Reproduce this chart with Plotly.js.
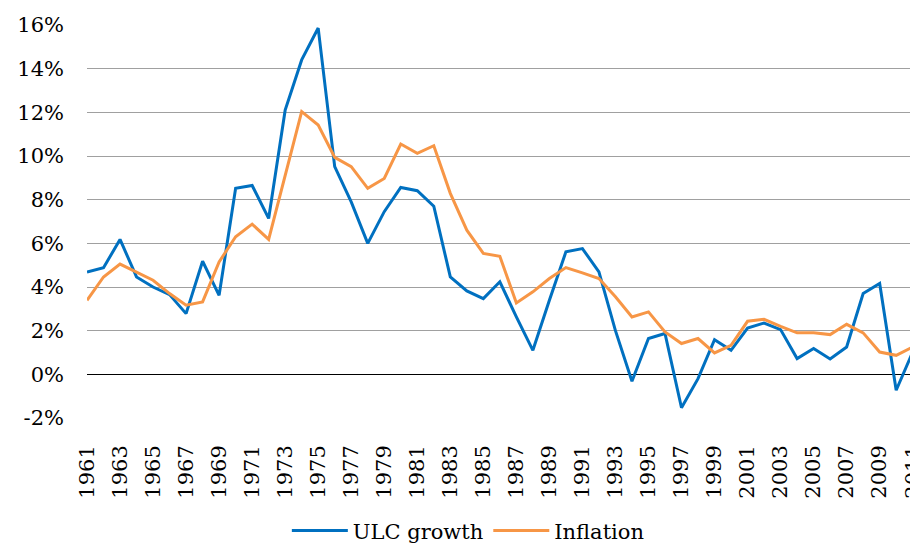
<!DOCTYPE html>
<html>
<head>
<meta charset="utf-8">
<script src="https://cdn.plot.ly/plotly-3.0.1.min.js"></script>
<style>
  body { margin: 0; overflow: hidden; background: #fff; }
  #chart { width: 916px; height: 544px; }
</style>
</head>
<body>
<div id="chart"></div>
<script>
const years = [];
for (let y = 1961; y <= 2011; y += 1) years.push(y);

// unit labour cost growth, % per year
const ulcGrowth = [4.69, 4.88, 6.18, 4.46, 4.0, 3.65, 2.78, 5.18, 3.62, 8.52,
                   8.65, 7.14, 12.1, 14.4, 15.86, 9.51, 7.9, 6.0, 7.45, 8.56,
                   8.41, 7.7, 4.46, 3.82, 3.47, 4.24, 2.63, 1.1, 3.39, 5.61,
                   5.76, 4.69, 2.0, -0.32, 1.64, 1.87, -1.53, -0.2, 1.59, 1.1,
                   2.12, 2.35, 2.05, 0.72, 1.18, 0.7, 1.25, 3.7, 4.16, -0.73,
                   1.02];

// consumer price inflation, % per year
const inflation = [3.39, 4.46, 5.05, 4.69, 4.31, 3.7, 3.17, 3.32, 5.15, 6.3,
                   6.88, 6.18, 9.05, 12.03, 11.42, 9.94, 9.51, 8.52, 8.97, 10.55,
                   10.12, 10.47, 8.29, 6.6, 5.54, 5.41, 3.27, 3.78, 4.39, 4.89,
                   4.65, 4.39, 3.55, 2.63, 2.86, 1.94, 1.41, 1.64, 0.98, 1.33,
                   2.43, 2.52, 2.2, 1.9, 1.9, 1.82, 2.29, 1.9, 1.02, 0.87,
                   1.25];

// y axis ticks (plain hyphen for the minus, as in the source)
const yTickVals = [-2, 0, 2, 4, 6, 8, 10, 12, 14, 16];
const yTickText = ['-2%', '0%', '2%', '4%', '6%', '8%', '10%', '12%', '14%', '16%'];

const seriesNames = ["ULC growth", "Inflation"];
const seriesColors = ['#0070C0', '#F79646'];

const txtFont = {family: 'DejaVu Serif, serif', size: 21, color: '#000'};

const data = [
    {x: years, y: ulcGrowth, type: 'scatter', mode: 'lines', name: seriesNames[0],
     line: {color: seriesColors[0], width: 3}},
    {x: years, y: inflation, type: 'scatter', mode: 'lines', name: seriesNames[1],
     line: {color: seriesColors[1], width: 3}}
];

const layout = {
    width: 916,
    height: 544,
    margin: {l: 87, r: 0, t: 25, b: 126},
    paper_bgcolor: '#fff',
    plot_bgcolor: '#fff',
    font: txtFont,
    showlegend: true,
    legend: {
        orientation: 'h',
        x: 0.46, xanchor: 'center',
        yref: 'container',
        y: 0.062, yanchor: 'top',
        font: {family: 'DejaVu Serif, serif', size: 21, color: '#000'},
        itemwidth: 56
    },
    xaxis: {
        range: [1961, 2011.2],
        tick0: 1961, dtick: 2,
        tickangle: -90,
        showgrid: false,
        zeroline: false,
        showline: false,
        ticks: '',
        automargin: false,
        ticklabeloverflow: 'allow',
        ticklabelstandoff: 22,
        tickfont: txtFont
    },
    yaxis: {
        range: [-2, 16],
        tickmode: 'array',
        tickvals: yTickVals,
        ticktext: yTickText,
        showgrid: true,
        gridcolor: '#A0A0A0',
        gridwidth: 1,
        zeroline: true,
        zerolinecolor: '#000',
        zerolinewidth: 1.5,
        showline: false,
        ticks: '',
        automargin: false,
        ticklabelstandoff: 22,
        tickfont: txtFont
    }
};

Plotly.newPlot('chart', data, layout, {displayModeBar: false, staticPlot: true});
</script>
</body>
</html>
